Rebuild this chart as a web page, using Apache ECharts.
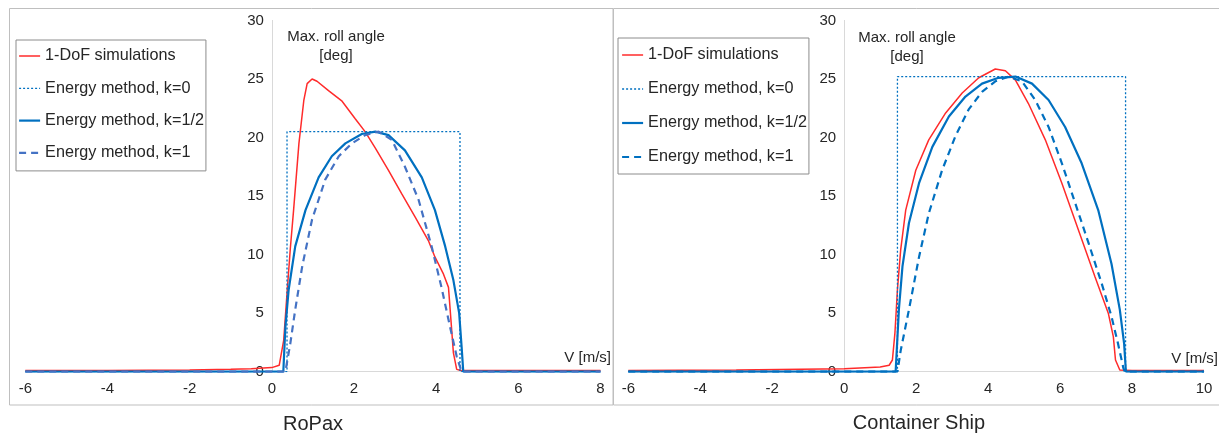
<!DOCTYPE html>
<html>
<head>
<meta charset="utf-8">
<script src="https://cdn.jsdelivr.net/npm/echarts@6/dist/echarts.min.js"></script>
<style>
html,body{margin:0;padding:0;background:#fff;}
#c{width:1219px;height:437px;}
</style>
</head>
<body>
<div id="c"></div>
<script>
// ---------- data ----------
const legendNames = ['1-DoF simulations', 'Energy method, k=0', 'Energy method, k=1/2', 'Energy method, k=1'];
const panelTitles = ['RoPax', 'Container Ship'];
const yAxisTitle = 'Max. roll angle\n[deg]';
const xAxisTitle = 'V [m/s]';
const xRangeRoPax = [-6, 8];
const xRangeContainer = [-6, 10];
const yTicks = [0, 30, 5];

// RoPax
const ropaxSim = [[-6,0.1],[-4,0.1],[-2,0.15],[-1,0.2],[-0.5,0.25],[0,0.35],[0.18,0.55],[0.29,2.7],[0.37,6.7],[0.45,10.5],[0.53,13.8],[0.66,19.5],[0.78,23.2],[0.86,24.6],[0.98,25.0],[1.10,24.8],[1.38,24.0],[1.71,23.1],[2.03,21.6],[2.27,20.5],[2.52,19.1],[2.84,17.2],[3.16,15.2],[3.49,13.2],[3.81,11.2],[3.97,9.8],[4.17,8.4],[4.30,7.2],[4.36,4.4],[4.42,1.6],[4.50,0.2],[4.6,0.1],[6,0.1],[8,0.1]];
const ropaxK0 = [[-6,0],[0.37,0],[0.37,20.5],[4.58,20.5],[4.58,0],[8,0]];
const ropaxKhalf = [[-6,0],[0.28,0],[0.33,3.8],[0.41,7.0],[0.57,10.7],[0.82,13.8],[1.14,16.6],[1.46,18.4],[1.79,19.5],[2.19,20.3],[2.52,20.5],[2.84,20.2],[3.24,18.9],[3.65,16.6],[3.97,13.8],[4.22,10.7],[4.42,7.8],[4.56,5.0],[4.62,2.1],[4.66,0],[8,0]];
const ropaxK1 = [[-6,0],[0.33,0],[0.45,2.4],[0.57,5.3],[0.74,9.0],[0.98,13.0],[1.30,16.4],[1.63,18.4],[1.95,19.5],[2.27,20.2],[2.60,20.5],[2.92,19.8],[3.24,17.5],[3.57,14.7],[3.89,10.7],[4.13,7.2],[4.34,3.8],[4.50,1.3],[4.62,0],[8,0]];

// Container ship
const contSim = [[-6,0.1],[-3,0.15],[0,0.25],[1.0,0.4],[1.25,0.55],[1.34,1.0],[1.41,3.3],[1.48,7.0],[1.57,10.4],[1.71,13.8],[1.99,17.2],[2.35,19.8],[2.82,22.1],[3.28,23.8],[3.74,25.1],[4.20,25.85],[4.48,25.7],[4.76,24.9],[5.12,22.9],[5.59,19.8],[6.05,16.1],[6.51,12.1],[6.97,8.1],[7.34,5.0],[7.48,3.0],[7.54,1.0],[7.66,0.15],[8,0.1],[10,0.1]];
const contK0 = [[-6,0],[1.48,0],[1.48,25.2],[7.82,25.2],[7.82,0],[10,0]];
const contKhalf = [[-6,0],[1.43,0],[1.52,5.3],[1.62,9.0],[1.80,12.7],[2.08,16.1],[2.45,19.2],[2.91,21.8],[3.37,23.5],[3.83,24.6],[4.29,25.1],[4.76,25.2],[5.22,24.6],[5.68,23.2],[6.14,20.9],[6.60,17.8],[7.06,13.8],[7.43,9.2],[7.66,5.3],[7.78,2.4],[7.83,0],[10,0]];
const contK1 = [[-6,0],[1.48,0],[1.57,1.8],[1.80,5.3],[2.08,9.8],[2.35,13.5],[2.72,17.2],[3.09,20.1],[3.46,22.4],[3.83,23.9],[4.20,24.8],[4.57,25.2],[4.94,24.8],[5.31,23.2],[5.68,20.9],[6.05,17.8],[6.42,14.4],[6.79,11.0],[7.16,7.5],[7.43,4.7],[7.61,2.4],[7.76,0.3],[7.80,0],[10,0]];

// ---------- styles ----------
const FONT = "'Liberation Sans', Arial, sans-serif";
const TXT = '#262626';
const RED = '#ff2b2b';
const BLUE = '#0070c0';
const BLUE2 = '#4472c4';

const grids = [
  {left:25.3, top:20.4, width:575.2, height:351.3},
  {left:628.3, top:20.4, width:575.7, height:351.3}
];
const ranges = [xRangeRoPax, xRangeContainer];

function xAxis(idx, range){
  return {
    type:'value', gridIndex: idx, min: range[0], max: range[1], interval: 2,
    axisLine:{show:true, onZero:false, lineStyle:{color:'#d9d9d9', width:1}},
    axisTick:{show:false}, splitLine:{show:false},
    axisLabel:{color:TXT, fontSize:15, fontFamily:FONT, margin:10}
  };
}
function yAxis(idx){
  // move the axis onto x = 0 of its own x scale
  const g = grids[idx], r = ranges[idx];
  const zeroOffset = g.width * (0 - r[0]) / (r[1] - r[0]);
  return {
    type:'value', gridIndex: idx, min: yTicks[0], max: yTicks[1], interval: yTicks[2],
    position:'left', offset: -zeroOffset,
    axisLine:{show:true, onZero:false, lineStyle:{color:'#d9d9d9', width:1}},
    axisTick:{show:false}, splitLine:{show:false},
    axisLabel:{color:TXT, fontSize:15, fontFamily:FONT, margin:8}
  };
}
function series(idx, sim, k0, kh, k1, dashColor){
  const base = {type:'line', xAxisIndex:idx, yAxisIndex:idx, symbol:'none', showSymbol:false, animation:false, silent:true};
  return [
    Object.assign({}, base, {name:legendNames[0], data:sim, lineStyle:{color:RED, width:1.5}, itemStyle:{color:RED}, z:2}),
    Object.assign({}, base, {name:legendNames[1], data:k0, lineStyle:{color:BLUE, width:1.3, type:[2,2]}, itemStyle:{color:BLUE}, z:3}),
    Object.assign({}, base, {name:legendNames[2], data:kh, lineStyle:{color:BLUE, width:2.2}, itemStyle:{color:BLUE}, z:4}),
    Object.assign({}, base, {name:legendNames[3], data:k1, lineStyle:{color:dashColor, width:2.2, type:[7,5]}, itemStyle:{color:dashColor}, z:5})
  ];
}
const hidden = {opacity:0, color:'rgba(0,0,0,0)', borderWidth:0};
function legend(left, top, gap, pad, dashColor){
  return {
    orient:'vertical', left:left, top:top, itemWidth:21, itemHeight:14, itemGap:gap,
    padding:pad, borderColor:'#8c8c8c', borderWidth:1, backgroundColor:'#fff',
    selectedMode:false,
    textStyle:{color:TXT, fontSize:16.2, fontFamily:FONT, lineHeight:18},
    data:[
      {name:legendNames[0], itemStyle:hidden, lineStyle:{color:RED, width:1.5}},
      {name:legendNames[1], itemStyle:hidden, lineStyle:{color:BLUE, width:1.3, type:[2,2]}},
      {name:legendNames[2], itemStyle:hidden, lineStyle:{color:BLUE, width:2.2}},
      {name:legendNames[3], itemStyle:hidden, lineStyle:{color:dashColor, width:2.2, type:[7,5]}}
    ]
  };
}
function txt(x, y, text, size, align){
  return {type:'text', x:x, y:y, silent:true, z:10,
    style:{text:text, fill:TXT, font: size + 'px ' + FONT, align:align||'center', verticalAlign:'middle', lineHeight: 19}};
}

const chart = echarts.init(document.getElementById('c'), null, {renderer:'canvas'});
chart.setOption({
  animation:false,
  backgroundColor:'#fff',
  grid: grids,
  xAxis:[xAxis(0, xRangeRoPax), xAxis(1, xRangeContainer)],
  yAxis:[yAxis(0), yAxis(1)],
  legend:[
    legend(16, 40, 14.3, [7,2,9,2], BLUE2),
    legend(618, 38, 16, [8,2,8,3], BLUE)
  ],
  series: [].concat(
    series(0, ropaxSim, ropaxK0, ropaxKhalf, ropaxK1, BLUE2),
    series(1, contSim, contK0, contKhalf, contK1, BLUE)
  ),
  graphic:[
    {type:'rect', shape:{x:9.5, y:8.5, width:603.5, height:396.5}, style:{fill:'none', stroke:'#bfbfbf', lineWidth:1}, silent:true, z:-1},
    {type:'rect', shape:{x:613.5, y:8.5, width:620, height:396.5}, style:{fill:'none', stroke:'#bfbfbf', lineWidth:1}, silent:true, z:-1},
    txt(336, 46, yAxisTitle, 15),
    txt(907, 47, yAxisTitle, 15),
    txt(611, 358, xAxisTitle, 15, 'right'),
    txt(1218, 359, xAxisTitle, 15, 'right'),
    txt(313, 424, panelTitles[0], 20),
    txt(919, 423, panelTitles[1], 20)
  ]
});
</script>
</body>
</html>
